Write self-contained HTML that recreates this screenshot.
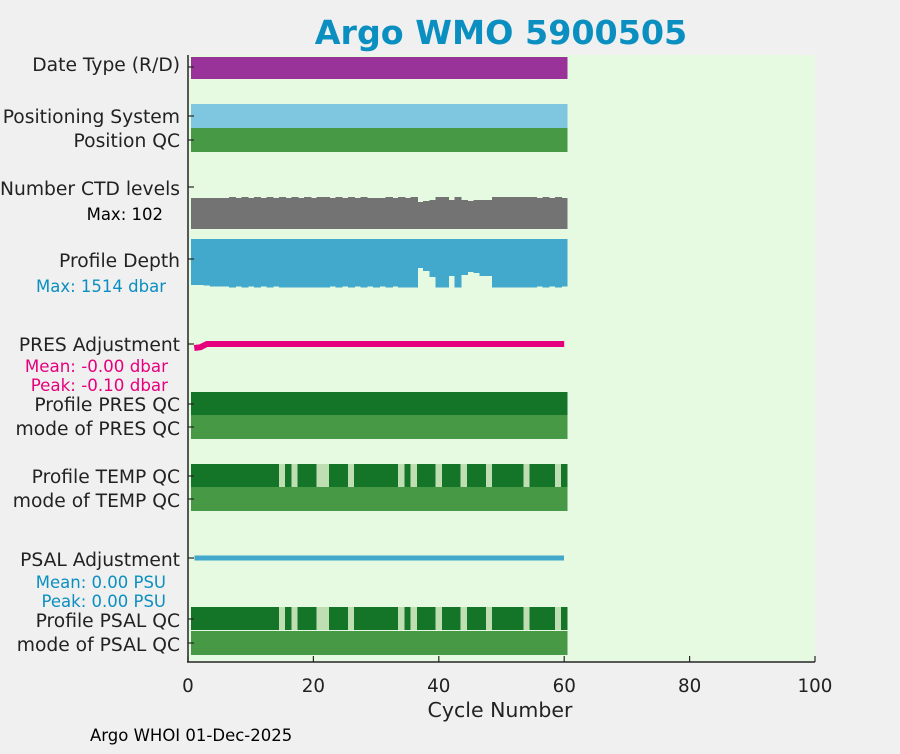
<!DOCTYPE html>
<html><head><meta charset="utf-8"><style>
body{margin:0;background:#f0f0f0;font-family:"DejaVu Sans","Liberation Sans",sans-serif;}
svg text{font-family:"DejaVu Sans","Liberation Sans",sans-serif;}
</style></head><body>
<svg id="c" width="900" height="750">
<rect width="900" height="750" fill="#f0f0f0"/>
<text x="501" y="44" text-anchor="middle" font-size="33.3" font-weight="bold" fill="#0a8fc0">Argo WMO 5900505</text>
<rect x="188" y="55" width="627" height="607" fill="#e6f9e1"/>
<g id="marks" shape-rendering="crispEdges"></g>
<g id="labels" font-size="18.7" fill="#222" text-anchor="end">
<text x="180" y="71">Date Type (R/D)</text>
<text x="180" y="123">Positioning System</text>
<text x="180" y="147">Position QC</text>
<text x="180" y="195">Number CTD levels</text>
<text x="163" y="220" font-size="16.5" fill="#000">Max: 102</text>
<text x="180" y="267">Profile Depth</text>
<text x="166" y="292" font-size="16.5" fill="#0a8fc0">Max: 1514 dbar</text>
<text x="180" y="351">PRES Adjustment</text>
<text x="168" y="372" font-size="16.7" fill="#e6007e">Mean: -0.00 dbar</text>
<text x="168" y="391" font-size="16.7" fill="#e6007e">Peak: -0.10 dbar</text>
<text x="180" y="411">Profile PRES QC</text>
<text x="180" y="435">mode of PRES QC</text>
<text x="180" y="483">Profile TEMP QC</text>
<text x="180" y="507">mode of TEMP QC</text>
<text x="180" y="566">PSAL Adjustment</text>
<text x="166" y="588" font-size="16.5" fill="#0a8fc0">Mean: 0.00 PSU</text>
<text x="166" y="607" font-size="16.5" fill="#0a8fc0">Peak: 0.00 PSU</text>
<text x="180" y="627">Profile PSAL QC</text>
<text x="180" y="651">mode of PSAL QC</text>
</g>
<g id="axes"></g>
<text x="500" y="717" text-anchor="middle" font-size="20.5" fill="#222">Cycle Number</text>
<text x="90" y="741" font-size="16.5" fill="#000">Argo WHOI 01-Dec-2025</text>
</svg>
<script>
const cycles = Array.from({length:60},(_,i)=>i+1);
const ctdLevels = [99,99,99,99,99,99,102,99,102,99,102,99,102,99,102,99,102,99,102,99,102,102,99,102,99,102,99,102,99,99,99,102,99,102,99,102,86,90,93,102,102,93,102,93,90,93,93,93,102,102,102,102,102,102,102,99,102,99,102,99];
const profileDepth = [1431,1431,1452,1483,1483,1483,1514,1483,1514,1483,1514,1483,1514,1483,1514,1514,1514,1514,1514,1514,1514,1514,1483,1514,1483,1514,1483,1514,1483,1514,1483,1514,1483,1514,1514,1514,902,995,1182,1514,1514,1151,1514,1120,1027,1058,1151,1151,1514,1514,1514,1514,1514,1514,1514,1483,1514,1483,1514,1483];
const tempBadCycles = [15,17,21,22,26,34,36,40,44,48,54,59];
const psalBadCycles = [15,17,21,22,26,34,36,40,44,48,54,59];
const presAdj = [-0.10,-0.08,0,0,0,0,0,0,0,0,0,0,0,0,0,0,0,0,0,0,0,0,0,0,0,0,0,0,0,0,0,0,0,0,0,0,0,0,0,0,0,0,0,0,0,0,0,0,0,0,0,0,0,0,0,0,0,0,0,0];
const xTicks = [0,20,40,60,80,100];
const NS='http://www.w3.org/2000/svg';
const X = v => 188 + v*6.27;
const W = 6.27;
const marks = document.getElementById('marks');
function mk(tag, at, parent){const e=document.createElementNS(NS,tag);for(const k in at)e.setAttribute(k,at[k]);(parent||marks).appendChild(e);return e;}
function band(y,h,color,name){
  const r=mk('rect',{x:X(0.5),y:y,width:X(60.5)-X(0.5),height:h,fill:color});
  
  
}
band(57,22,'#993399','date-type-bar');
band(104,24,'#7fc6e0','positioning-system-bar');
band(128,24,'#479946','position-qc-bar');
cycles.forEach((c,i)=>{const h=ctdLevels[i]/102*32;
  const r=mk('rect',{x:X(c-0.5),y:229-h,width:c===60?W:W+1,height:h,fill:'#737373'});
  
  });
cycles.forEach((c,i)=>{const h=profileDepth[i]/1514*48.7;
  const r=mk('rect',{x:X(c-0.5),y:239,width:c===60?W:W+1,height:h,fill:'#42a9cd'});
  
  });
const pp=cycles.map((c,i)=>X(c)+','+(344-presAdj[i]*40)).join(' ');
const pl=mk('polyline',{points:pp,fill:'none',stroke:'#e6007e','stroke-width':6,'stroke-linejoin':'round','shape-rendering':'auto'});


band(392,23,'#147529','profile-pres-qc-bar');
band(415,24,'#479946','mode-pres-qc-bar');
function qcRow(y,bad,name){
  cycles.forEach(c=>{const r=mk('rect',{x:X(c-0.5),y:y,width:c===60?W:W+1,height:23,fill:bad.includes(c)?'#bfdfb3':'#147529'});
    
    });
}
qcRow(464,tempBadCycles,'profile-temp-qc-cell');
band(487,24,'#479946','mode-temp-qc-bar');
const sl=mk('line',{x1:X(1),y1:558,x2:X(60),y2:558,stroke:'#42a9cd','stroke-width':5});


qcRow(607,psalBadCycles,'profile-psal-qc-cell');
band(631,24,'#479946','mode-psal-qc-bar');
const ax=document.getElementById('axes');
let a=mk('line',{x1:188,y1:55,x2:188,y2:662,stroke:'#262626','stroke-width':1.5},ax);


a=mk('line',{x1:187,y1:662,x2:815,y2:662,stroke:'#262626','stroke-width':1.5},ax);


[67,116,140,187,259,344,404,427,476,499,558,619,643].forEach(y=>{mk('line',{x1:188,y1:y,x2:194,y2:y,stroke:'#262626','stroke-width':1.2},ax);});
xTicks.forEach(t=>{mk('line',{x1:X(t),y1:662,x2:X(t),y2:656,stroke:'#262626','stroke-width':1.2},ax);
  const tx=mk('text',{x:X(t),y:692,'text-anchor':'middle','font-size':18.3,fill:'#222'},ax);tx.textContent=t;
  
  });
</script>
</body></html>
